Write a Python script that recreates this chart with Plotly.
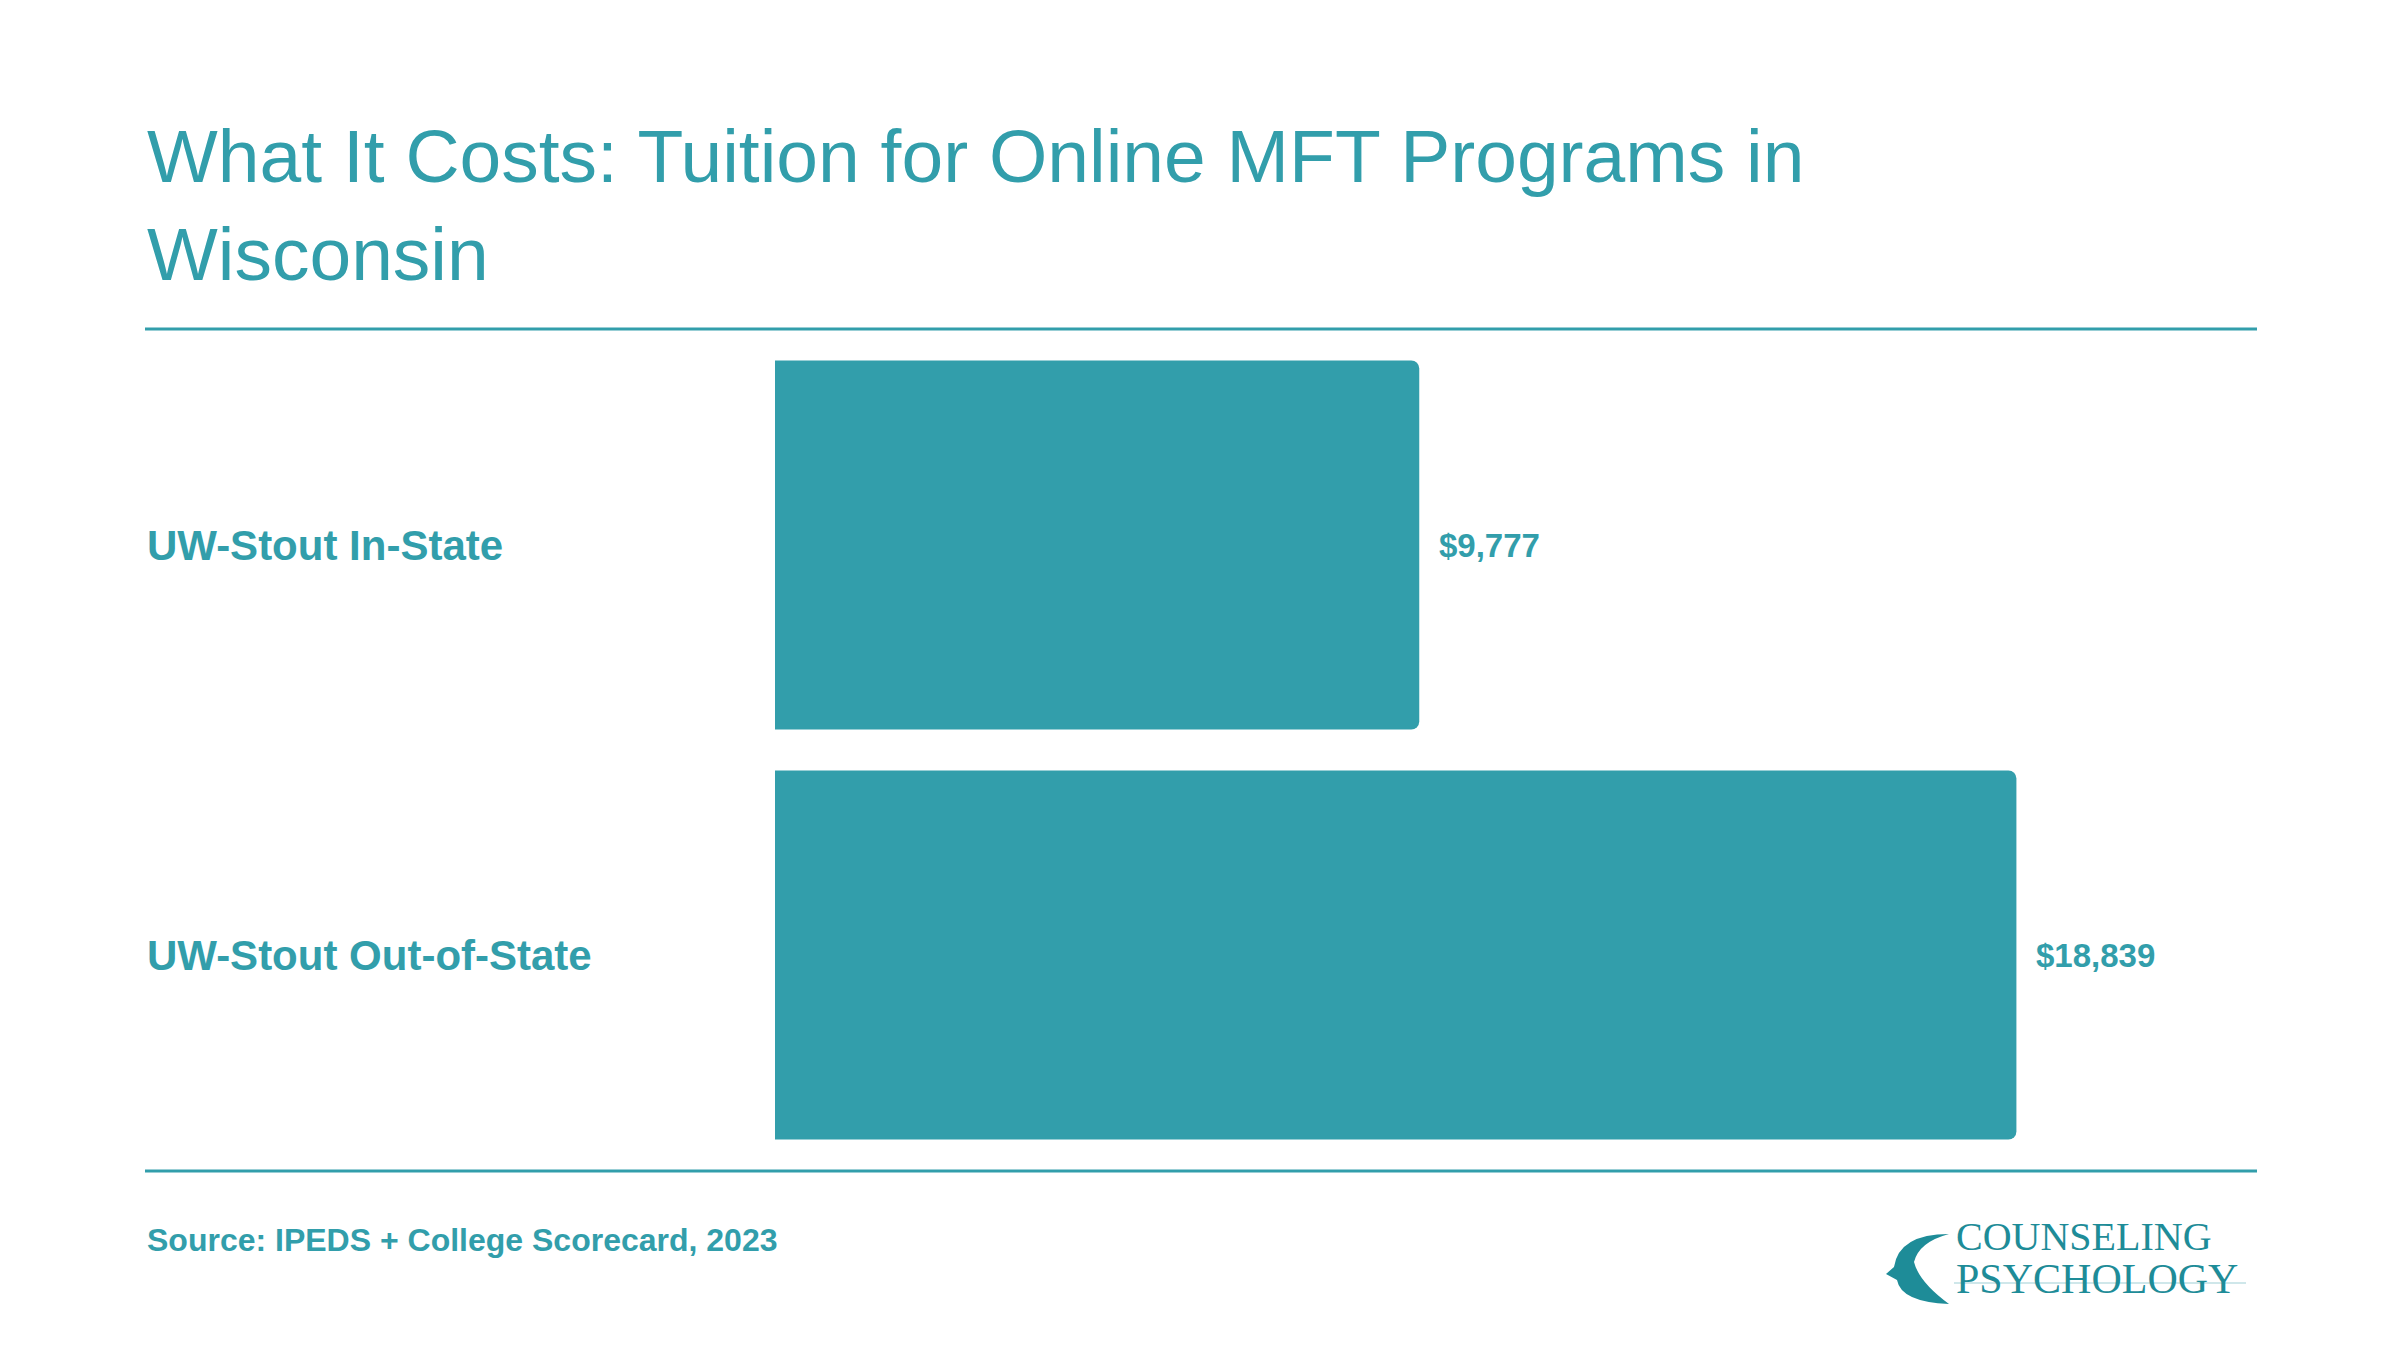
import plotly.graph_objects as go

categories = ["UW-Stout In-State", "UW-Stout Out-of-State"]
tuition = [9777, 18839]
value_labels = ["$9,777", "$18,839"]

teal = "#329EAB"
W, H = 2400, 1350
o = 8  # default page margin offset


def px(x):
    return (x - o) / W


def py(y):
    return 1 - (y - o) / H


fig = go.Figure()
fig.add_trace(go.Bar(
    x=tuition, y=categories, orientation="h",
    marker=dict(color=teal, line=dict(width=0)),
    hoverinfo="skip",
))

fig.update_layout(
    width=W, height=H,
    margin=dict(l=0, r=0, t=0, b=0),
    paper_bgcolor="white", plot_bgcolor="white",
    showlegend=False,
    bargap=0.1,
    barcornerradius=8,
    font=dict(family="Liberation Sans, Arial", color=teal),
    xaxis=dict(domain=[px(775), px(2257)], range=[0, 22490], visible=False),
    yaxis=dict(domain=[py(1160), py(340)], autorange="reversed",
               showticklabels=False, showgrid=False, zeroline=False),
)

# category labels on the left and value labels
for cat, val, lab in zip(categories, tuition, value_labels):
    fig.add_annotation(x=px(145), xref="paper", y=cat, yref="y", text=f"<b>{cat}</b>",
                       showarrow=False, xanchor="left", font=dict(size=42, color=teal))
    fig.add_annotation(x=val, xref="x", y=cat, yref="y", text=f"<b>{lab}</b>",
                       showarrow=False, xanchor="left", xshift=18,
                       font=dict(size=33, color=teal))

# title
fig.add_annotation(x=px(145), y=py(112), xref="paper", yref="paper",
                   text="What It Costs: Tuition for Online MFT Programs in<br>Wisconsin",
                   showarrow=False, xanchor="left", yanchor="top", align="left",
                   font=dict(size=75, color=teal))

# rules
for yy in [329, 1171]:
    fig.add_shape(type="line", xref="paper", yref="paper", x0=px(145), x1=px(2257),
                  y0=py(yy), y1=py(yy), line=dict(color=teal, width=3))

# source
fig.add_annotation(x=px(145), y=py(1260), xref="paper", yref="paper",
                   text="<b>Source: IPEDS + College Scorecard, 2023</b>",
                   showarrow=False, xanchor="left", font=dict(size=32, color=teal))

# logo
logo_c = "#1E8C98"
lx, ly = 9, 12
fig.add_annotation(x=px(1945 + lx), y=py(1249 + ly), xref="paper", yref="paper", text="COUNSELING",
                   showarrow=False, xanchor="left",
                   font=dict(family="Liberation Serif, DejaVu Serif", size=40, color=logo_c))
fig.add_annotation(x=px(1945 + lx), y=py(1292 + ly), xref="paper", yref="paper", text="PSYCHOLOGY",
                   showarrow=False, xanchor="left",
                   font=dict(family="Liberation Serif, DejaVu Serif", size=42, color=logo_c))
fig.add_shape(type="line", xref="paper", yref="paper", x0=px(1945 + lx), x1=px(2237 + lx),
              y0=py(1271 + ly), y1=py(1271 + ly), line=dict(color="#CFE7EA", width=2))
fig.add_shape(type="path", xref="paper", yref="paper",
              path=(f"M {px(1940+lx)},{py(1222+ly)} Q {px(1890+lx)},{py(1222+ly)} {px(1885+lx)},{py(1255+ly)} "
                    f"L {px(1877+lx)},{py(1262+ly)} L {px(1888+lx)},{py(1268+ly)} "
                    f"Q {px(1892+lx)},{py(1290+ly)} {px(1940+lx)},{py(1292+ly)} "
                    f"Q {px(1910+lx)},{py(1270+ly)} {px(1905+lx)},{py(1250+ly)} "
                    f"Q {px(1910+lx)},{py(1230+ly)} {px(1940+lx)},{py(1222+ly)} Z"),
              fillcolor=logo_c, line=dict(width=0))

fig.write_html("out.html")
